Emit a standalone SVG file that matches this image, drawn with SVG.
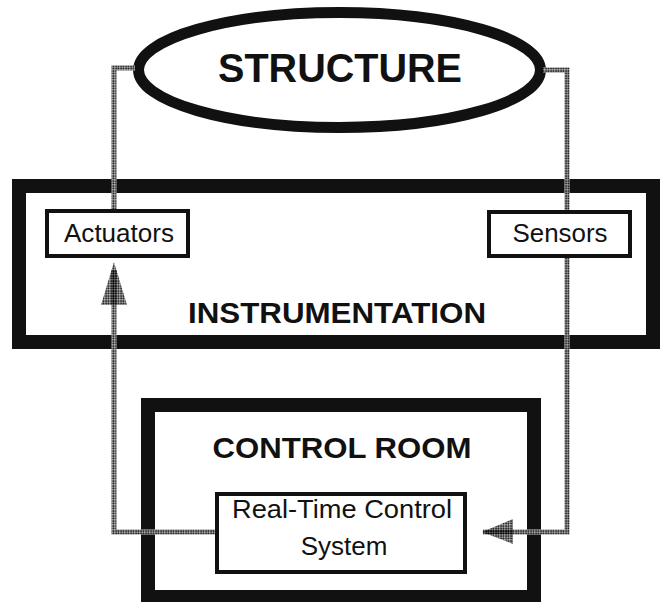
<svg xmlns="http://www.w3.org/2000/svg" width="669" height="602" viewBox="0 0 669 602">
  <defs>
    <pattern id="dots" width="2.5" height="2.5" patternUnits="userSpaceOnUse">
      <rect x="0.2" y="0.2" width="1.9" height="1.9" fill="#000"/>
    </pattern>
    <style>
      .thick { fill: none; stroke: #111; stroke-width: 14; }
      .thin { fill: #fff; stroke: #111; stroke-width: 4; }
      .under { fill: none; stroke: #fff; stroke-width: 5; }
      .dot { fill: none; stroke: url(#dots); stroke-width: 5; }
      .head { fill: url(#dots); stroke: none; }
      .bold { font-family: "Liberation Sans", Arial, sans-serif; font-weight: bold; fill: #111; text-anchor: middle; }
      .reg { font-family: "Liberation Sans", Arial, sans-serif; fill: #111; text-anchor: middle; }
    </style>
  </defs>
  <rect width="669" height="602" fill="#fff"/>

  <g id="structure">
    <ellipse cx="339.5" cy="70" rx="201" ry="57.5" fill="#fff" stroke="#111" stroke-width="11"/>
    <text class="bold" x="340" y="82" font-size="41" textLength="244" lengthAdjust="spacingAndGlyphs">STRUCTURE</text>
  </g>

  <g id="instrumentation">
    <rect class="thick" x="19" y="186" width="634" height="156" stroke-width="13"/>
    <text class="bold" x="337" y="323" font-size="30" textLength="298" lengthAdjust="spacingAndGlyphs">INSTRUMENTATION</text>
  </g>

  <g id="actuators">
    <rect class="thin" x="47" y="211" width="141" height="45"/>
    <text class="reg" x="119" y="242" font-size="25" textLength="110" lengthAdjust="spacingAndGlyphs">Actuators</text>
  </g>

  <g id="sensors">
    <rect class="thin" x="489" y="212" width="141" height="44"/>
    <text class="reg" x="560" y="242" font-size="25" textLength="95" lengthAdjust="spacingAndGlyphs">Sensors</text>
  </g>

  <g id="control-room">
    <rect class="thick" x="148" y="405" width="386" height="192"/>
    <text class="bold" x="342" y="458" font-size="30" textLength="259" lengthAdjust="spacingAndGlyphs">CONTROL ROOM</text>
  </g>

  <g id="real-time-control-system">
    <rect class="thin" x="217" y="494" width="248" height="78"/>
    <text class="reg" x="342" y="518" font-size="26" textLength="220" lengthAdjust="spacingAndGlyphs">Real-Time Control</text>
    <text class="reg" x="344" y="555" font-size="26">System</text>
  </g>

  <g id="connectors">
    <path class="under" d="M135,68 H114 V209"/>
    <path class="dot" d="M135,68 H114 V209"/>
    <path class="under" d="M543,70 H567 V210"/>
    <path class="dot" d="M543,70 H567 V210"/>
    <path class="under" d="M567,258 V532 H483"/>
    <path class="dot" d="M567,258 V532 H483"/>
    <path class="under" d="M215,532 H114 V270"/>
    <path class="dot" d="M215,532 H114 V270"/>
    <polygon class="head" points="114,262 127,305 101,305"/>
    <polygon class="head" points="482,532 513,519 513,544"/>
  </g>
</svg>
